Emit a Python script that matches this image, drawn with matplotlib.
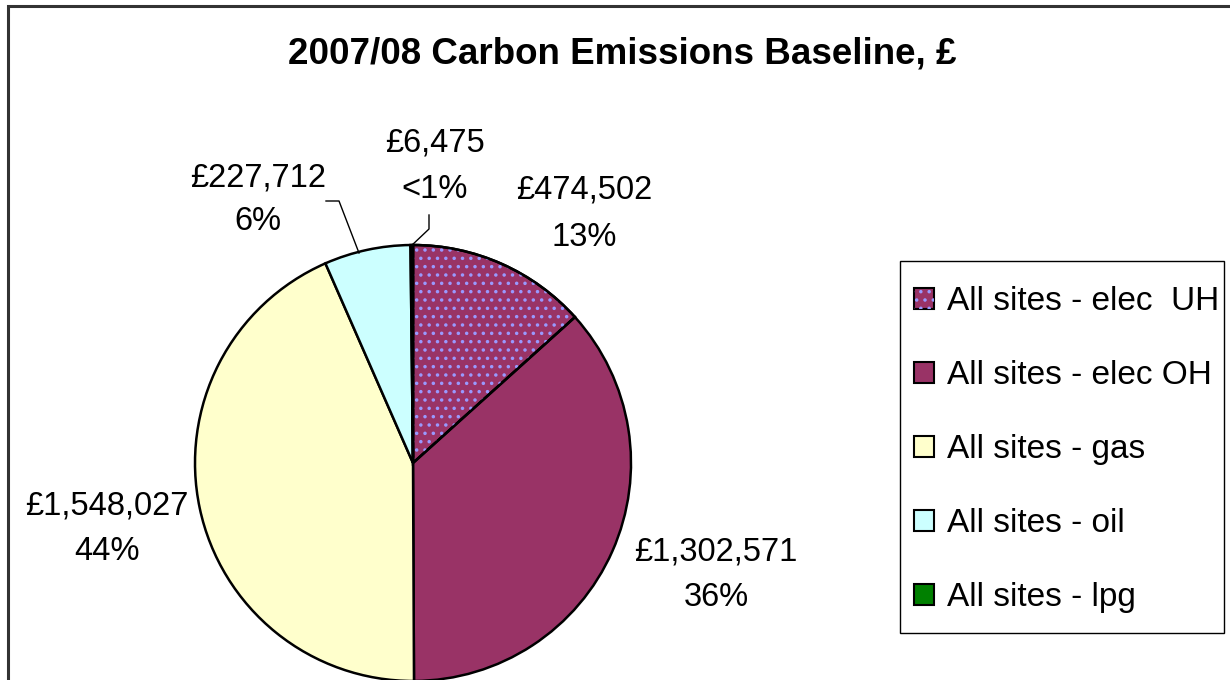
import matplotlib
matplotlib.use("Agg")
import matplotlib.pyplot as plt
from matplotlib.patches import Patch, Wedge, Rectangle

plt.rcParams["font.family"] = ["Liberation Sans", "DejaVu Sans"]
plt.rcParams["hatch.linewidth"] = 1.3

# Data
categories = ["All sites - elec  UH", "All sites - elec OH", "All sites - gas",
              "All sites - oil", "All sites - lpg"]
costs = [474502, 1302571, 1548027, 227712, 6475]
pct_labels = ["13%", "36%", "44%", "6%", "<1%"]
colors = ["#993366", "#993366", "#FFFFCC", "#CCFFFF", "#008000"]

W, H = 1230, 680
fig = plt.figure(figsize=(W / 100, H / 100), dpi=100)
ax = fig.add_axes([0, 0, 1, 1])


def Y(y):
    return H - y


cx, cy, r = 413, Y(463), 218
wedges, _ = ax.pie(costs, colors=colors, startangle=90, counterclock=False,
                   center=(cx, cy), radius=r,
                   wedgeprops=dict(edgecolor="black", linewidth=1.8))

# dotted fill for the UH slice
w0 = wedges[0]
dots = Wedge((cx, cy), r, w0.theta1, w0.theta2, facecolor="none",
             edgecolor="#9999FF", hatch="..", linewidth=0, zorder=w0.get_zorder() + 0.1)
ax.add_patch(dots)
edge = Wedge((cx, cy), r, w0.theta1, w0.theta2, facecolor="none",
             edgecolor="black", linewidth=1.8, zorder=w0.get_zorder() + 0.2)
ax.add_patch(edge)

ax.set_xlim(0, W)
ax.set_ylim(0, H)
ax.set_aspect("equal")
ax.axis("off")

# Data labels
label_pos = [(584, 190, 237), (716, 552, 598), (107, 506, 552),
             (258, 178, 222), (435, 143, 190)]
for val, pct, (x, y1, y2) in zip(costs, pct_labels, label_pos):
    ax.text(x, Y(y1), f"£{val:,}", ha="center", va="center", fontsize=23.5)
    ax.text(x, Y(y2), pct, ha="center", va="center", fontsize=23.5)

# Leader lines for the two small slices
ax.plot([359, 339, 326], [Y(253), Y(201), Y(201)], color="black", lw=1)
ax.plot([410, 429, 429], [Y(247), Y(229), Y(215)], color="black", lw=1)

# Title
ax.text(622, Y(54), "2007/08 Carbon Emissions Baseline, £", ha="center", va="center",
        fontsize=26.5, fontweight="bold")

# Chart area border
ax.plot([8, 8, W + 10], [Y(H + 10), Y(6), Y(6)], color="#333333", lw=2.2,
        solid_joinstyle="miter", clip_on=False)

# Legend box and entries
ax.add_patch(Rectangle((900, Y(633)), 324, 633 - 261, facecolor="white",
                       edgecolor="black", linewidth=1.0, zorder=4))
handles = []
for i, c in enumerate(colors):
    base = Patch(facecolor=c, edgecolor="black", linewidth=1.5)
    if i == 0:
        handles.append((base, Patch(facecolor="none", edgecolor="#9999FF",
                                    hatch="..", linewidth=0)))
    else:
        handles.append(base)
leg = ax.legend(handles, categories, loc="upper left",
                bbox_to_anchor=(914 / W, 1 - 286 / H), bbox_transform=fig.transFigure,
                fontsize=24, frameon=False, borderaxespad=0, borderpad=0,
                handlelength=0.6, handleheight=0.6, handletextpad=0.4,
                labelspacing=1.29)
leg.set_zorder(5)

fig.savefig("out.png", dpi=100)
